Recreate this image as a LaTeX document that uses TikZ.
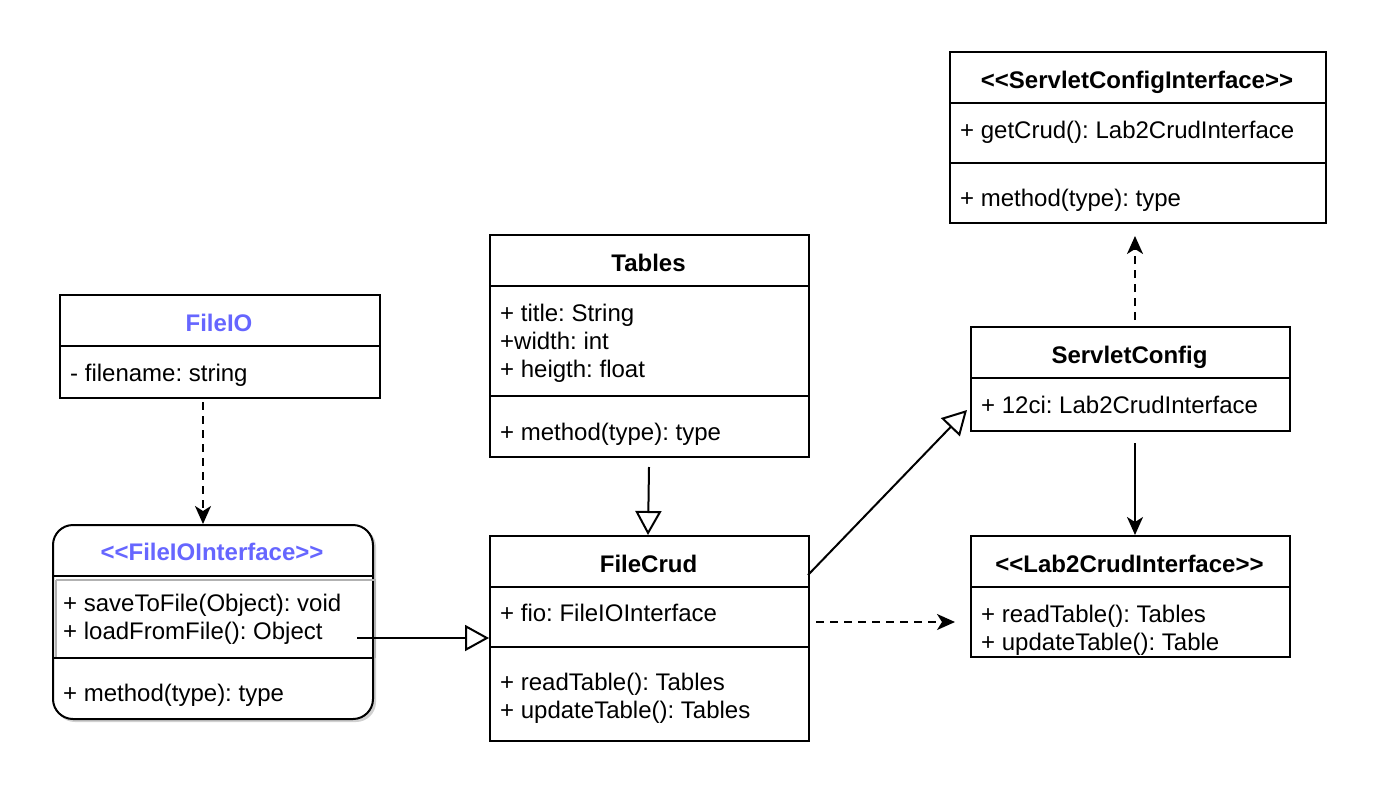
\documentclass[tikz,border=0pt]{standalone}
\usepackage{fontspec}
\setmainfont{Liberation Sans}
\usetikzlibrary{arrows.meta}
\definecolor{iblue}{RGB}{102,102,255}
\frenchspacing
\tikzset{
  cls/.style={draw=black, line width=2pt, fill=white, inner sep=0pt, anchor=north west},
  divl/.style={line width=2pt},
  mem/.style={inner sep=0pt, anchor=base west, font=\fontsize{24}{28}\selectfont},
  ttl/.style={inner sep=0pt, anchor=base, font=\fontsize{24}{28}\selectfont\bfseries},
  conn/.style={line width=2pt},
  dsh/.style={line width=2pt, dash pattern=on 8pt off 6pt},
  hollow/.style={-{Triangle[open, length=24pt, width=26pt, line width=2pt]}},
  filled/.style={-{Stealth[length=18pt, width=16pt, inset=5pt]}}
}
\begin{document}
\begin{tikzpicture}[x=1pt,y=-1pt]
\useasboundingbox (0,0) rectangle (1376,798);
\fill[white] (0,0) rectangle (1376,798);

% ---------- FileIO
\node[cls, minimum width=320pt, minimum height=103pt] (fileio) at (59,294) {};
\draw[divl] (59,346) -- (379,346);
\node[ttl, text=iblue] (fileioT) at (219,331) {FileIO};
\node[mem] (fileioA) at (70,381) {- filename: string};

% ---------- FileIOInterface (rounded, shadow)
\fill[black!18, rounded corners=20pt] (55,527) rectangle (376,722);
\node[cls, rounded corners=20pt, minimum width=320pt, minimum height=194pt] (fioi) at (52,524) {};
\draw[black!30, line width=2pt] (56,580) -- (375,580) -- (375,658);
\draw[black!30, line width=2pt] (56,580) -- (56,658);
\draw[divl] (52,576) -- (372,576);
\draw[divl] (52,658) -- (372,658);
\node[ttl, text=iblue] (fioiT) at (212,560) {<{}<FileIOInterface>{}>};
\node[mem] (fioiA) at (63,611) {+ saveToFile(Object): void};
\node[mem] (fioiB) at (63,639) {+ loadFromFile(): Object};
\node[mem] (fioiC) at (63,701) {+ method(type): type};

% ---------- Tables
\node[cls, minimum width=319pt, minimum height=222pt] (tables) at (489,234) {};
\draw[divl] (489,286) -- (808,286);
\draw[divl] (489,396) -- (808,396);
\node[ttl] (tablesT) at (648.5,271) {Tables};
\node[mem] (tablesA) at (500,321) {+ title: String};
\node[mem] (tablesB) at (500,349) {+width: int};
\node[mem] (tablesC) at (500,377) {+ heigth: float};
\node[mem] (tablesD) at (500,440) {+ method(type): type};

% ---------- FileCrud
\node[cls, minimum width=319pt, minimum height=205pt] (filecrud) at (489,535) {};
\draw[divl] (489,587) -- (808,587);
\draw[divl] (489,647) -- (808,647);
\node[ttl] (filecrudT) at (648.5,572) {FileCrud};
\node[mem] (filecrudA) at (500,621) {+ fio: FileIOInterface};
\node[mem] (filecrudB) at (500,690) {+ readTable(): Tables};
\node[mem] (filecrudC) at (500,718) {+ updateTable(): Tables};

% ---------- ServletConfigInterface
\node[cls, minimum width=376pt, minimum height=171pt] (sci) at (949,51) {};
\draw[divl] (949,103) -- (1325,103);
\draw[divl] (949,163) -- (1325,163);
\node[ttl] (sciT) at (1137,88) {<{}<ServletConfigInterface>{}>};
\node[mem] (sciA) at (960,138) {+ getCrud(): Lab2CrudInterface};
\node[mem] (sciB) at (960,206) {+ method(type): type};

% ---------- ServletConfig
\node[cls, minimum width=319pt, minimum height=104pt] (sc) at (970,326) {};
\draw[divl] (970,378) -- (1289,378);
\node[ttl] (scT) at (1129.5,363) {ServletConfig};
\node[mem] (scA) at (981,413) {+ 12ci: Lab2CrudInterface};

% ---------- Lab2CrudInterface
\node[cls, minimum width=319pt, minimum height=121pt] (lab) at (970,535) {};
\draw[divl] (970,587) -- (1289,587);
\node[ttl] (labT) at (1129.5,572) {<{}<Lab2CrudInterface>{}>};
\node[mem] (labA) at (981,622) {+ readTable(): Tables};
\node[mem] (labB) at (981,650) {+ updateTable(): Table};

% ---------- connectors
\coordinate (c1) at (203,402);
\draw[dsh, filled] (c1) -- (fioi.north -| c1);

\coordinate (c2s) at (649,467);
\draw[conn, hollow] (c2s) -- (648,535);

\coordinate (c3s) at (357,638);
\draw[conn, hollow] (c3s) -- (filecrud.west |- c3s);

\coordinate (c4s) at (808,575);
\coordinate (c4e) at (967,410);
\draw[conn, hollow] (c4s) -- (c4e);

\coordinate (c5s) at (816,622);
\coordinate (c5e) at (955,622);
\draw[dsh, filled] (c5s) -- (c5e);

\coordinate (c6s) at (1135,320);
\coordinate (c6e) at (1135,236);
\draw[dsh, filled] (c6s) -- (c6e);

\coordinate (c7s) at (1135,443);
\draw[conn, filled] (c7s) -- (lab.north -| c7s);
\end{tikzpicture}
\end{document}
